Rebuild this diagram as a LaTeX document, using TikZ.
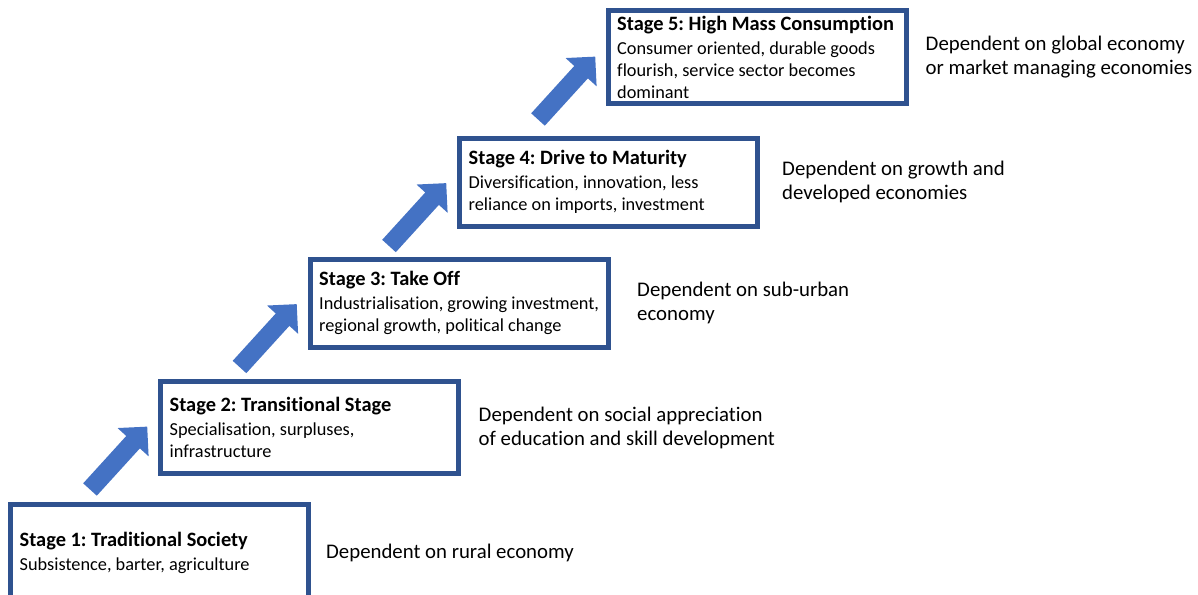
\documentclass[tikz,border=0pt]{standalone}
\usepackage{fontspec}
\setmainfont{Carlito}[Ligatures={NoCommon,NoContextual}]
\frenchspacing
\usetikzlibrary{calc}
\definecolor{framecol}{HTML}{2F528F}
\definecolor{arrowcol}{HTML}{4472C4}
\begin{document}
\begin{tikzpicture}[x=1pt,y=-1pt,
  stagebox/.style={draw=framecol, line width=5pt, fill=white, rectangle,
    inner sep=0pt, outer sep=0pt, minimum width=298pt, anchor=north west},
  stagetext/.style={anchor=west, align=left, inner sep=0pt,
    font=\fontsize{18.3}{22}\selectfont},
  sidetext/.style={anchor=west, align=left, inner sep=0pt,
    font=\fontsize{20.8}{24}\selectfont},
  stagearrow/.pic={
    \fill[arrowcol] (0,-9.2) -- (64,-9.2) -- (64,-21) -- (85,0)
      -- (64,21) -- (64,9.2) -- (0,9.2) -- cycle;}
]
\useasboundingbox (0,0) rectangle (1198,594);
\clip (0,0) rectangle (1198,594);

% the five stage boxes, climbing to the upper right
\node[stagebox, minimum height=96pt] (s1) at (10.5,504.5) {};
\node[stagebox, minimum height=92pt] (s2) at (160.5,381.5) {};
\node[stagebox, minimum height=88.5pt] (s3) at (310,259) {};
\node[stagebox, minimum height=88pt] (s4) at (459.5,138) {};
\node[stagebox, minimum height=92pt] (s5) at (608,11) {};

% stage titles and descriptions
\newcommand{\stagehead}[1]{{\fontsize{20.4}{22}\selectfont\bfseries #1}\\[2pt]}
\node[stagetext] (s1t) at ($(s1.west)+(9,0)$)
  {\stagehead{Stage 1: Traditional Society}Subsistence, barter, agriculture};
\node[stagetext] (s2t) at ($(s2.west)+(9,0)$)
  {\stagehead{Stage 2: Transitional Stage}Specialisation, surpluses,\\infrastructure};
\node[stagetext] (s3t) at ($(s3.west)+(9,0)$)
  {\stagehead{Stage 3: Take Off}Industrialisation, growing investment,\\regional growth, political change};
\node[stagetext] (s4t) at ($(s4.west)+(9,0)$)
  {\stagehead{Stage 4: Drive to Maturity}Diversification, innovation, less\\reliance on imports, investment};
\node[stagetext] (s5t) at ($(s5.west)+(9,0)$)
  {\stagehead{Stage 5: High Mass Consumption}Consumer oriented, durable goods\\flourish, service sector becomes\\dominant};

% dependencies beside each stage
\node[sidetext] (d1) at ($(s1.east)+(17.5,0)$) {Dependent on rural economy};
\node[sidetext] (d2) at ($(s2.east)+(20,0)$) {Dependent on social appreciation\\of education and skill development};
\node[sidetext] (d3) at ($(s3.east)+(29,0)$) {Dependent on sub-urban\\economy};
\node[sidetext] (d4) at ($(s4.east)+(24.5,0)$) {Dependent on growth and\\developed economies};
\node[sidetext] (d5) at ($(s5.east)+(19.5,0)$) {Dependent on global economy\\or market managing economies};

% block arrows leading from one stage to the next
\coordinate (a12) at ($(s2.north west)+(-70.5,108)$);
\coordinate (a23) at ($(s3.north west)+(-70.5,108)$);
\coordinate (a34) at ($(s4.north west)+(-70.5,108)$);
\coordinate (a45) at ($(s5.north west)+(-70,108.5)$);
\foreach \a in {a12,a23,a34,a45}
  \pic[rotate=47.7] at (\a) {stagearrow};
\end{tikzpicture}
\end{document}
